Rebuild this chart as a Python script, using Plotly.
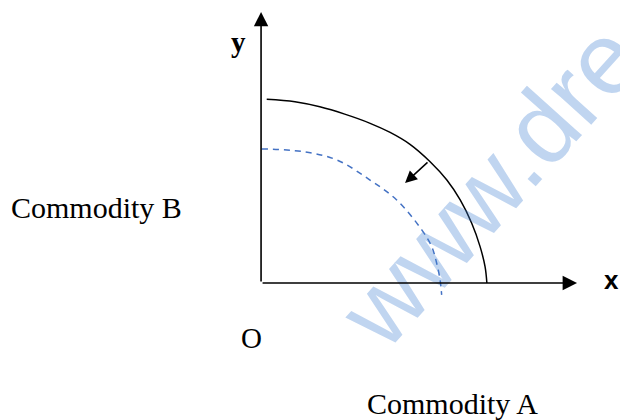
import plotly.graph_objects as go

# Original production possibility frontier (solid)
ppf_old_x = [0.25, 1.5, 2.6, 3.7, 4.8, 5.71, 6.59, 7.48, 8.22, 8.81, 9.32, 9.69, 9.91, 9.99]
ppf_old_y = [8.03, 7.92, 7.70, 7.38, 6.99, 6.58, 6.06, 5.30, 4.50, 3.63, 2.61, 1.59, 0.71, 0.0]

# Shifted frontier (dashed), runs slightly below the x axis
ppf_new_x = [0.03, 1.87, 3.35, 4.82, 6.0, 7.11, 7.55, 7.77, 7.92, 7.99]
ppf_new_y = [5.86, 5.74, 5.38, 4.50, 3.63, 2.32, 1.59, 0.86, 0.13, -0.52]

# Axis lengths and the inward-shift arrow
axis_x_end = 13.98
axis_y_end = 11.85
shift_from = [7.43, 5.33]
shift_to = [6.37, 4.37]

serif = "Liberation Serif, Times New Roman, serif"
sans = "Liberation Sans, Arial, sans-serif"

data = [
    go.Scatter(x=ppf_old_x, y=ppf_old_y, mode="lines", line_shape="spline",
               line=dict(color="black", width=1.5), hoverinfo="skip"),
    go.Scatter(x=ppf_new_x, y=ppf_new_y, mode="lines", line_shape="spline",
               line=dict(color="#4472C4", width=1.5, dash="6px,5px"), hoverinfo="skip"),
]

fig = go.Figure(data=data)

# Watermark (drawn first so it sits under the other annotations)
fig.add_annotation(x=10.13, y=4.28, text="www.dre", showarrow=False, textangle=-48,
                   font=dict(family=sans, size=102, color="rgba(65,128,208,0.33)"))

# Axes with arrow heads
arrow_style = dict(showarrow=True, text="", axref="x", ayref="y",
                   arrowhead=2, arrowsize=1.8, arrowwidth=1.6, arrowcolor="black")
fig.add_annotation(x=axis_x_end, y=0, ax=0, ay=0, **arrow_style)
fig.add_annotation(x=0, y=axis_y_end, ax=0, ay=0, **arrow_style)

# Arrow showing the inward shift
fig.add_annotation(x=shift_to[0], y=shift_to[1], ax=shift_from[0], ay=shift_from[1],
                   showarrow=True, text="", axref="x", ayref="y",
                   arrowhead=2, arrowsize=1.6, arrowwidth=1.5, arrowcolor="black")

# Labels
fig.add_annotation(x=-1.02, y=10.54, text="<b>y</b>", showarrow=False,
                   font=dict(family=serif, size=29, color="black"))
fig.add_annotation(x=15.49, y=0.13, text="<b>x</b>", showarrow=False,
                   font=dict(family=sans, size=26, color="black"))
fig.add_annotation(x=-7.26, y=3.28, text="Commodity B", showarrow=False,
                   font=dict(family=serif, size=30, color="black"))
fig.add_annotation(x=-0.44, y=-2.40, text="O", showarrow=False,
                   font=dict(family=serif, size=29, color="black"))
fig.add_annotation(x=8.45, y=-5.25, text="Commodity A", showarrow=False,
                   font=dict(family=serif, size=30, color="black"))

fig.update_layout(width=620, height=420, margin=dict(l=0, r=0, t=0, b=0),
                  paper_bgcolor="white", plot_bgcolor="white", showlegend=False,
                  xaxis=dict(range=[-11.55, 15.88], visible=False, fixedrange=True),
                  yaxis=dict(range=[-5.99, 12.37], visible=False, fixedrange=True))

# drop the default body margin so the 620x420 figure fills the window exactly
fig.write_html("out.html", config={"displayModeBar": False},
               post_script="document.body.style.margin='0';"
                           "document.documentElement.style.overflow='hidden';")
